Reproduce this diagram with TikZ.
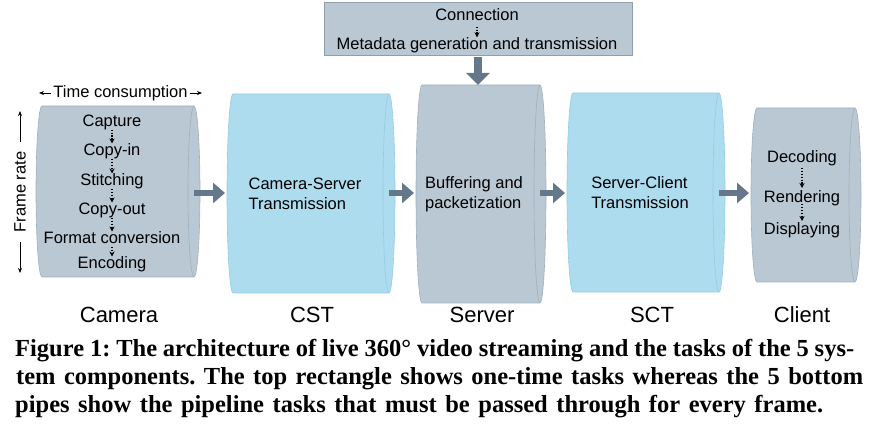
\documentclass[tikz,border=0pt]{standalone}
\usepackage{fontspec}
\setmainfont{Liberation Serif}
\setsansfont{Liberation Sans}
\usetikzlibrary{arrows.meta,positioning,calc}

\definecolor{pipegray}{HTML}{BAC8D3}
\definecolor{pipegrayline}{HTML}{A0B0BE}
\definecolor{pipeblue}{HTML}{ADDCEF}
\definecolor{pipeblueline}{HTML}{93CCE3}
\definecolor{boxline}{HTML}{8E9EAC}
\definecolor{flowgray}{HTML}{65778A}

\tikzset{
  task/.style={font=\sffamily\fontsize{16.5}{20}\selectfont, inner sep=0pt},
  stage/.style={font=\sffamily\fontsize{22}{26}\selectfont, inner sep=0pt, anchor=base},
  pipebody/.style={inner sep=0pt, outer sep=0pt},
  graypipe/.style={fill=pipegray, draw=pipegrayline, line width=0.6pt},
  bluepipe/.style={fill=pipeblue, draw=pipeblueline, line width=0.6pt},
  onetime/.style={fill=pipegray, draw=boxline, line width=0.6pt, inner sep=0pt, outer sep=0pt},
  dots/.style={dash pattern=on 1.3pt off 1.6pt, line width=1.2pt, -{Stealth[length=5pt,width=5pt]}},
  flow/.style={draw=flowgray, line width=6pt, -{Triangle[length=12pt,width=20pt]}},
  gauge/.style={line width=0.7pt, {Stealth[length=5pt,width=4pt]}-{Stealth[length=5pt,width=4pt]}},
  caption/.style={font=\rmfamily\bfseries\fontsize{24.5}{28}\selectfont, inner sep=0pt, anchor=base west},
}

% pipe: name, centre, width, height, style
\newcommand{\drawpipe}[5]{%
  \node[pipebody, minimum width=#3, minimum height=#4] (#1) at (#2) {};
  \path[#5] ([xshift=6pt]#1.north west) -- ([xshift=-6pt]#1.north east)
    arc[start angle=90, end angle=-90, x radius=6pt, y radius=#4/2]
    -- ([xshift=6pt]#1.south west)
    arc[start angle=270, end angle=90, x radius=6pt, y radius=#4/2] -- cycle;
  \path[#5] ([xshift=-6pt]#1.north east)
    arc[start angle=90, end angle=270, x radius=6pt, y radius=#4/2];
}

\begin{document}
\frenchspacing
\begin{tikzpicture}[x=1pt,y=1pt]
  \useasboundingbox (0,0) rectangle (878,426);

  % one-time tasks
  \node[onetime, minimum width=308pt, minimum height=53pt] (once) at (478,397.5) {};
  \node[task, anchor=base] (conn) at (477,405.3) {Connection};
  \node[task, anchor=base] (meta) at (477,376.7) {Metadata generation and transmission};
  \draw[dots] ([yshift=-6pt]conn.base) -- ([yshift=12pt]meta.base);

  % the five pipes
  \drawpipe{cam}{118,234.5}{164pt}{171pt}{graypipe}
  \drawpipe{cst}{311,232.5}{168pt}{199pt}{bluepipe}
  \drawpipe{srv}{481,232}{130pt}{218pt}{graypipe}
  \drawpipe{sct}{646,233.5}{158pt}{199pt}{bluepipe}
  \drawpipe{cli}{806,231}{110pt}{174pt}{graypipe}

  \draw[flow, line width=8pt, -{Triangle[length=12pt,width=23pt]}] ([yshift=-2pt]once.south) -- (once.south |- srv.north);

  \coordinate (row) at (0,233);
  \foreach \a/\b in {cam/cst,cst/srv,srv/sct,sct/cli}
    \draw[flow] ([xshift=-6pt]\a.east |- row) -- ([xshift=-2pt]\b.west |- row);

  % camera tasks
  \node[task, anchor=base] (capt) at (112,299.3) {Capture};
  \node[task, anchor=base] (cpin) at (112,270) {Copy-in};
  \node[task, anchor=base] (stch) at (112,240) {Stitching};
  \node[task, anchor=base] (cpout) at (112,211) {Copy-out};
  \node[task, anchor=base] (fmt) at (112,182) {Format conversion};
  \node[task, anchor=base] (enc) at (112,157) {Encoding};
  \foreach \a/\b in {capt/cpin,cpin/stch,stch/cpout,cpout/fmt,fmt/enc}
    \draw[dots] ([yshift=-3pt]\a.base) -- ([yshift=12.5pt]\b.base);

  \coordinate (tc1) at (39,333);
  \coordinate (tc2) at (202,333);
  \draw[gauge] (tc1) -- node[task, fill=white, inner xsep=2pt] (tclbl) {Time consumption} (tc2);
  \coordinate (fr1) at (20,315);
  \coordinate (fr2) at (20,153);
  \draw[gauge] (fr1) -- node[task, fill=white, rotate=90, inner xsep=10pt] (frlbl) {Frame rate} (fr2);

  % transmission and server
  \node[task, align=left] (csttxt) at ([xshift=-6pt]cst) {Camera-Server\\Transmission};
  \node[task, align=left] (srvtxt) at ([xshift=-7pt]srv) {Buffering and\\packetization};
  \node[task, align=left] (scttxt) at ([xshift=-6pt]sct) {Server-Client\\Transmission};

  % client tasks
  \node[task, anchor=base] (dec) at (802,263) {Decoding};
  \node[task, anchor=base] (rend) at (802,223) {Rendering};
  \node[task, anchor=base] (disp) at (802,191) {Displaying};
  \draw[dots] ([yshift=-5pt]dec.base) -- ([yshift=15pt]rend.base);
  \draw[dots] ([yshift=-1pt]rend.base) -- ([yshift=14pt]disp.base);

  % stage names
  \node[stage] (camlbl) at (119,103) {Camera};
  \node[stage] (cstlbl) at (312,103) {CST};
  \node[stage] (srvlbl) at (482,103) {Server};
  \node[stage] (sctlbl) at (652,103) {SCT};
  \node[stage] (clilbl) at (802,103) {Client};

  % caption
  \node[caption] (fig1) at (15,70) {\makebox[839pt][s]{Figure 1: The architecture of live 360° video streaming and the tasks of the 5 sys-}};
  \node[caption] (fig2) at (16,42) {\makebox[847pt][s]{tem components. The top rectangle shows one-time tasks whereas the 5 bottom}};
  \node[caption] (fig3) at (15,14) {\makebox[808pt][s]{pipes show the pipeline tasks that must be passed through for every frame.}};
\end{tikzpicture}
\end{document}
